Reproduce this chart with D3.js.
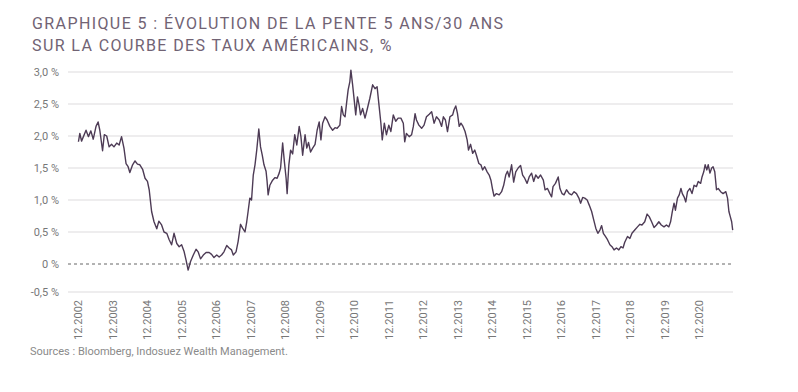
<!DOCTYPE html>
<html>
<head>
<meta charset="utf-8">
<script src="https://cdn.jsdelivr.net/npm/d3@7"></script>
<style>
  body { margin: 0; background: #fff; }
  svg { display: block; font-family: Roboto, "Open Sans", sans-serif; }
</style>
</head>
<body>
<div id="content"></div>
<script>
(function(d3) {

  // pente 5 ans / 30 ans, % (dates as decimal years)
  var years = [
    2002.93, 2002.97, 2003.02, 2003.15, 2003.22, 2003.29, 2003.36, 2003.44, 2003.50, 2003.55,
    2003.63, 2003.68, 2003.75, 2003.82, 2003.89, 2003.96, 2004.04, 2004.11, 2004.18, 2004.25,
    2004.31, 2004.37, 2004.42, 2004.50, 2004.57, 2004.64, 2004.71, 2004.79, 2004.86, 2004.93,
    2004.98, 2005.05, 2005.12, 2005.20, 2005.26, 2005.34, 2005.41, 2005.49, 2005.56, 2005.63,
    2005.70, 2005.78, 2005.85, 2005.92, 2005.99, 2006.05, 2006.11, 2006.18, 2006.26, 2006.34,
    2006.40, 2006.47, 2006.55, 2006.63, 2006.72, 2006.79, 2006.86, 2006.94, 2007.01, 2007.08,
    2007.15, 2007.23, 2007.30, 2007.37, 2007.42, 2007.50, 2007.56, 2007.63, 2007.69, 2007.76,
    2007.81, 2007.85, 2007.90, 2007.95, 2008.00, 2008.05, 2008.10, 2008.16, 2008.21, 2008.26,
    2008.31, 2008.37, 2008.40, 2008.43, 2008.48, 2008.56, 2008.63, 2008.69, 2008.75, 2008.79,
    2008.85, 2008.90, 2008.95, 2008.98, 2009.03, 2009.08, 2009.14, 2009.20, 2009.26, 2009.33,
    2009.38, 2009.43, 2009.50, 2009.55, 2009.60, 2009.66, 2009.72, 2009.79, 2009.85, 2009.91,
    2009.96, 2010.01, 2010.08, 2010.14, 2010.22, 2010.30, 2010.37, 2010.43, 2010.51, 2010.56,
    2010.61, 2010.66, 2010.71, 2010.75, 2010.80, 2010.83, 2010.88, 2010.93, 2010.97, 2011.02,
    2011.07, 2011.11, 2011.17, 2011.24, 2011.30, 2011.38, 2011.46, 2011.53, 2011.59, 2011.65,
    2011.70, 2011.74, 2011.80, 2011.86, 2011.93, 2011.99, 2012.06, 2012.13, 2012.20, 2012.28,
    2012.35, 2012.39, 2012.44, 2012.52, 2012.59, 2012.64, 2012.69, 2012.73, 2012.80, 2012.88,
    2012.95, 2013.02, 2013.10, 2013.17, 2013.24, 2013.31, 2013.39, 2013.46, 2013.51, 2013.57,
    2013.63, 2013.70, 2013.78, 2013.82, 2013.87, 2013.92, 2013.97, 2014.02, 2014.08, 2014.14,
    2014.20, 2014.24, 2014.30, 2014.36, 2014.42, 2014.47, 2014.54, 2014.60, 2014.65, 2014.71,
    2014.78, 2014.84, 2014.89, 2014.94, 2014.98, 2015.05, 2015.13, 2015.20, 2015.26, 2015.32,
    2015.37, 2015.42, 2015.49, 2015.55, 2015.61, 2015.68, 2015.75, 2015.81, 2015.87, 2015.94,
    2016.00, 2016.07, 2016.13, 2016.19, 2016.26, 2016.33, 2016.41, 2016.46, 2016.53, 2016.60,
    2016.65, 2016.69, 2016.76, 2016.84, 2016.89, 2016.95, 2017.01, 2017.08, 2017.16, 2017.23,
    2017.30, 2017.37, 2017.44, 2017.49, 2017.55, 2017.61, 2017.68, 2017.74, 2017.81, 2017.87,
    2017.93, 2017.99, 2018.05, 2018.10, 2018.15, 2018.21, 2018.27, 2018.34, 2018.40, 2018.46,
    2018.53, 2018.60, 2018.66, 2018.72, 2018.77, 2018.85, 2018.92, 2018.98, 2019.06, 2019.14,
    2019.21, 2019.27, 2019.35, 2019.42, 2019.48, 2019.55, 2019.62, 2019.69, 2019.76, 2019.83,
    2019.91, 2019.98, 2020.05, 2020.10, 2020.15, 2020.20, 2020.24, 2020.30, 2020.35, 2020.40,
    2020.44, 2020.49, 2020.54, 2020.59, 2020.66, 2020.72, 2020.78, 2020.85, 2020.90, 2020.97,
    2021.01, 2021.06, 2021.10, 2021.15, 2021.19, 2021.24, 2021.29, 2021.33, 2021.38, 2021.43,
    2021.48, 2021.55, 2021.62, 2021.70, 2021.75, 2021.79, 2021.83, 2021.87, 2021.90
  ];
  var slope = [
    1.91, 2.04, 1.92, 2.09, 1.99, 2.08, 1.95, 2.15, 2.22, 2.09,
    1.77, 2.02, 2.00, 1.83, 1.87, 1.83, 1.89, 1.86, 1.99, 1.81,
    1.57, 1.52, 1.43, 1.55, 1.61, 1.56, 1.55, 1.48, 1.34, 1.29,
    1.16, 0.82, 0.66, 0.55, 0.67, 0.61, 0.50, 0.48, 0.38, 0.30,
    0.48, 0.32, 0.27, 0.30, 0.20, 0.06, -0.11, 0.04, 0.14, 0.23,
    0.19, 0.08, 0.14, 0.18, 0.18, 0.15, 0.10, 0.14, 0.11, 0.14,
    0.19, 0.29, 0.25, 0.22, 0.14, 0.19, 0.35, 0.62, 0.56, 0.50,
    0.66, 0.82, 1.03, 1.00, 1.39, 1.55, 1.78, 2.11, 1.83, 1.70,
    1.55, 1.45, 1.29, 1.08, 1.23, 1.31, 1.35, 1.34, 1.42, 1.50,
    1.89, 1.60, 1.34, 1.10, 1.55, 1.78, 1.72, 2.02, 1.86, 2.15,
    1.99, 1.70, 2.02, 1.81, 1.90, 1.75, 1.81, 1.87, 2.09, 2.22,
    1.94, 2.20, 2.30, 2.25, 2.15, 2.09, 2.13, 2.12, 2.17, 2.46,
    2.33, 2.30, 2.54, 2.72, 2.85, 3.03, 2.80, 2.54, 2.33, 2.61,
    2.48, 2.33, 2.43, 2.28, 2.41, 2.59, 2.80, 2.74, 2.77, 2.46,
    2.20, 1.94, 2.20, 2.02, 2.17, 2.07, 2.33, 2.23, 2.28, 2.28,
    2.20, 1.91, 2.04, 1.99, 2.02, 2.15, 2.35, 2.25, 2.17, 2.12,
    2.17, 2.30, 2.34, 2.38, 2.20, 2.30, 2.25, 2.15, 2.30, 2.25,
    2.07, 2.30, 2.33, 2.41, 2.47, 2.35, 2.15, 2.20, 2.15, 2.07,
    1.94, 1.78, 1.87, 1.73, 1.78, 1.70, 1.57, 1.55, 1.47, 1.52,
    1.44, 1.39, 1.31, 1.16, 1.06, 1.10, 1.08, 1.13, 1.23, 1.39,
    1.45, 1.36, 1.55, 1.28, 1.44, 1.50, 1.54, 1.39, 1.34, 1.26,
    1.36, 1.42, 1.29, 1.39, 1.34, 1.39, 1.31, 1.16, 1.18, 1.10,
    1.05, 1.21, 1.26, 1.36, 1.18, 1.10, 1.08, 1.16, 1.10, 1.08,
    1.13, 1.10, 1.03, 0.95, 1.04, 1.03, 1.00, 0.92, 0.82, 0.69,
    0.56, 0.48, 0.53, 0.60, 0.48, 0.43, 0.38, 0.30, 0.27, 0.22,
    0.25, 0.22, 0.27, 0.25, 0.34, 0.43, 0.40, 0.48, 0.53, 0.58,
    0.62, 0.61, 0.66, 0.78, 0.74, 0.66, 0.57, 0.61, 0.66, 0.61,
    0.58, 0.61, 0.58, 0.66, 0.82, 0.95, 0.84, 1.03, 1.08, 1.18,
    1.10, 1.05, 0.97, 1.13, 1.18, 1.10, 1.23, 1.21, 1.29, 1.26,
    1.36, 1.44, 1.55, 1.47, 1.55, 1.42, 1.50, 1.52, 1.44, 1.16,
    1.18, 1.13, 1.10, 1.13, 1.03, 0.82, 0.74, 0.66, 0.53
  ];
  var yTicks = [-0.5, 0, 0.5, 1, 1.5, 2, 2.5, 3];
  var tickYears = d3.range(2002, 2021);

  var title = [
    "GRAPHIQUE 5 : ÉVOLUTION DE LA PENTE 5 ANS/30 ANS",
    "SUR LA COURBE DES TAUX AMÉRICAINS, %"
  ];
  var source = "Sources : Bloomberg, Indosuez Wealth Management.";

  var width = 798, height = 392;

  function toDate(y) {
    var yr = Math.floor(y);
    var start = new Date(yr, 0, 1), end = new Date(yr + 1, 0, 1);
    return new Date(+start + (y - yr) * (end - start));
  }

  var data = years.map(function(y, i) { return { date: toDate(y), v: slope[i] }; });

  var svg = d3.select("#content").append("svg")
      .attr("width", width)
      .attr("height", height);

  svg.selectAll("text.title")
      .data(title)
      .enter().append("text")
      .attr("class", "title")
      .attr("x", 32)
      .attr("y", function(d, i) { return 29 + i * 22; })
      .attr("fill", "#716374")
      .style("font-size", "16px")
      .style("letter-spacing", "1.4px")
      .text(function(d) { return d; });

  var x = d3.scaleTime()
      .domain([toDate(2002.917), toDate(2021.90)])
      .range([78, 732.7]);

  // the bottom gridline sits a bit closer in the original
  var y = d3.scaleLinear()
      .domain([-0.5, 0, 3])
      .range([292, 264, 72]);

  var fmt = function(d) {
    return d === 0 ? "0 %" : d3.format(".1f")(d).replace(".", ",").replace("−", "-") + " %";
  };

  // gridlines
  svg.append("g")
      .selectAll("line")
      .data(yTicks.filter(function(d) { return d !== 0; }))
      .enter().append("line")
      .attr("x1", 68).attr("x2", 733)
      .attr("y1", function(d) { return y(d); })
      .attr("y2", function(d) { return y(d); })
      .attr("stroke", "#e9e7e9")
      .attr("stroke-width", 1.5);

  svg.append("line")
      .attr("x1", 68).attr("x2", 733)
      .attr("y1", y(0)).attr("y2", y(0))
      .attr("stroke", "#666")
      .attr("stroke-width", 1)
      .attr("stroke-dasharray", "3,3");

  // y labels
  svg.append("g")
      .selectAll("text")
      .data(yTicks)
      .enter().append("text")
      .attr("x", 59)
      .attr("y", function(d) { return y(d); })
      .attr("dy", "0.35em")
      .attr("text-anchor", "end")
      .attr("fill", "#777")
      .style("font-size", "11px")
      .text(fmt);

  // x labels, rotated
  var xAxis = d3.axisBottom(x)
      .tickValues(tickYears.map(function(yr) { return new Date(yr, 11, 1); }))
      .tickFormat(d3.timeFormat("12.%Y"))
      .tickSize(0);

  var gx = svg.append("g")
      .attr("transform", "translate(0,300)")
      .call(xAxis);
  gx.select(".domain").remove();
  gx.selectAll("text")
      .attr("transform", "rotate(-90)")
      .attr("x", 0)
      .attr("y", 0)
      .attr("dy", "0.35em")
      .attr("text-anchor", "end")
      .attr("fill", "#777")
      .style("font-family", "Roboto, sans-serif")
      .style("font-size", "11px");

  var line = d3.line()
      .x(function(d) { return x(d.date); })
      .y(function(d) { return y(d.v); });

  svg.append("path")
      .datum(data)
      .attr("d", line)
      .attr("fill", "none")
      .attr("stroke", "#4d3b55")
      .attr("stroke-width", 1.4)
      .attr("stroke-linejoin", "round");

  svg.append("text")
      .attr("x", 30)
      .attr("y", 355)
      .attr("fill", "#8a8a8a")
      .style("font-size", "11px")
      .text(source);

})(window.d3);
</script>
</body>
</html>
